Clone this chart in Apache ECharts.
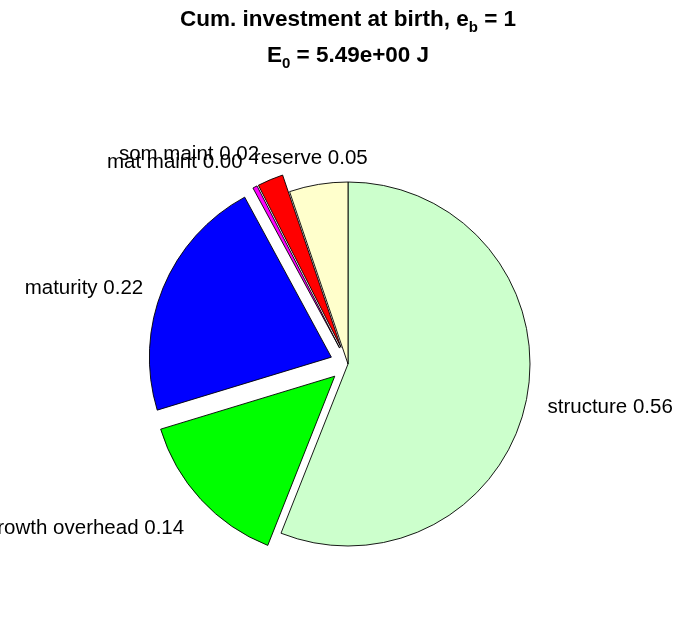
<!DOCTYPE html>
<html>
<head>
<meta charset="utf-8">
<script src="https://cdn.jsdelivr.net/npm/echarts@6/dist/echarts.min.js"></script>
<style>
html,body{margin:0;padding:0;background:#fff;}
#chart{width:696px;height:618px;}
</style>
</head>
<body>
<div id="chart"></div>
<script>
// ---- data ----
var names = ['structure', 'growth overhead', 'maturity', 'mat maint', 'som maint', 'reserve'];
var values = [0.560, 0.143, 0.218, 0.004, 0.023, 0.052];
var exploded = [false, true, true, true, true, false];
var titleLine1 = ['Cum. investment at birth, e', 'b', ' = 1'];
var titleLine2 = ['E', '0', ' = 5.49e+00 J'];

// ---- styles ----
var colors = ['#ccffcc', '#00ff00', '#0000ff', '#ff00ff', '#ff0000', '#ffffcc'];
var FONT = '"Liberation Sans", Arial, Helvetica, sans-serif';

var total = values.reduce(function (a, b) { return a + b; }, 0);
function midDir(i) {
  var cum = 0;
  for (var k = 0; k < i; k++) cum += values[k];
  var frac = (cum + values[i] / 2) / total;
  var ang = frac * 2 * Math.PI; // clockwise from top
  return [Math.sin(ang), -Math.cos(ang)];
}

var data = names.map(function (n, i) {
  return {
    name: n,
    value: values[i],
    selected: exploded[i],
    itemStyle: { color: colors[i] }
  };
});

var richTitle = {
  m: { fontSize: 22.5, fontWeight: 'bold', fontFamily: FONT, color: '#000', lineHeight: 30, verticalAlign: 'middle' },
  s: { fontSize: 15, fontWeight: 'bold', fontFamily: FONT, color: '#000', lineHeight: 10, verticalAlign: 'bottom' }
};

var chart = echarts.init(document.getElementById('chart'), null, { renderer: 'canvas' });
chart.setOption({
  animation: false,
  backgroundColor: '#fff',
  title: [
    {
      text: '{m|' + titleLine1[0] + '}{s|' + titleLine1[1] + '}{m|' + titleLine1[2] + '}',
      left: 'center', top: 5, padding: 0,
      textStyle: { rich: richTitle }
    },
    {
      text: '{m|' + titleLine2[0] + '}{s|' + titleLine2[1] + '}{m|' + titleLine2[2] + '}',
      left: 'center', top: 41, padding: 0,
      textStyle: { rich: richTitle }
    }
  ],
  series: [{
    type: 'pie',
    center: [348, 364],
    radius: 182,
    startAngle: 90,
    clockwise: true,
    selectedMode: 'multiple',
    selectedOffset: 18,
    avoidLabelOverlap: false,
    stillShowZeroSum: true,
    minAngle: 0,
    silent: true,
    itemStyle: { borderColor: '#000', borderWidth: 0.9 },
    select: { itemStyle: { borderColor: '#000', borderWidth: 0.9 } },
    emphasis: { disabled: true },
    label: {
      show: true,
      position: 'outside',
      fontSize: 20.5,
      fontFamily: FONT,
      color: '#000',
      distanceToLabelLine: 5,
      formatter: function (p) { return p.name + ' ' + p.value.toFixed(2); }
    },
    labelLine: { show: false, length: 16, length2: 0 },
    labelLayout: function (p) {
      var d = midDir(p.dataIndex);
      var res = {};
      if (d[1] < -0.7) res.verticalAlign = 'bottom';
      else if (d[1] > 0.5) { res.verticalAlign = 'top'; res.dy = 7; }
      else res.dy = 6;
      if (Math.abs(d[0]) < 0.2) res.align = 'center';
      return res;
    },
    data: data
  }]
});
</script>
</body>
</html>
